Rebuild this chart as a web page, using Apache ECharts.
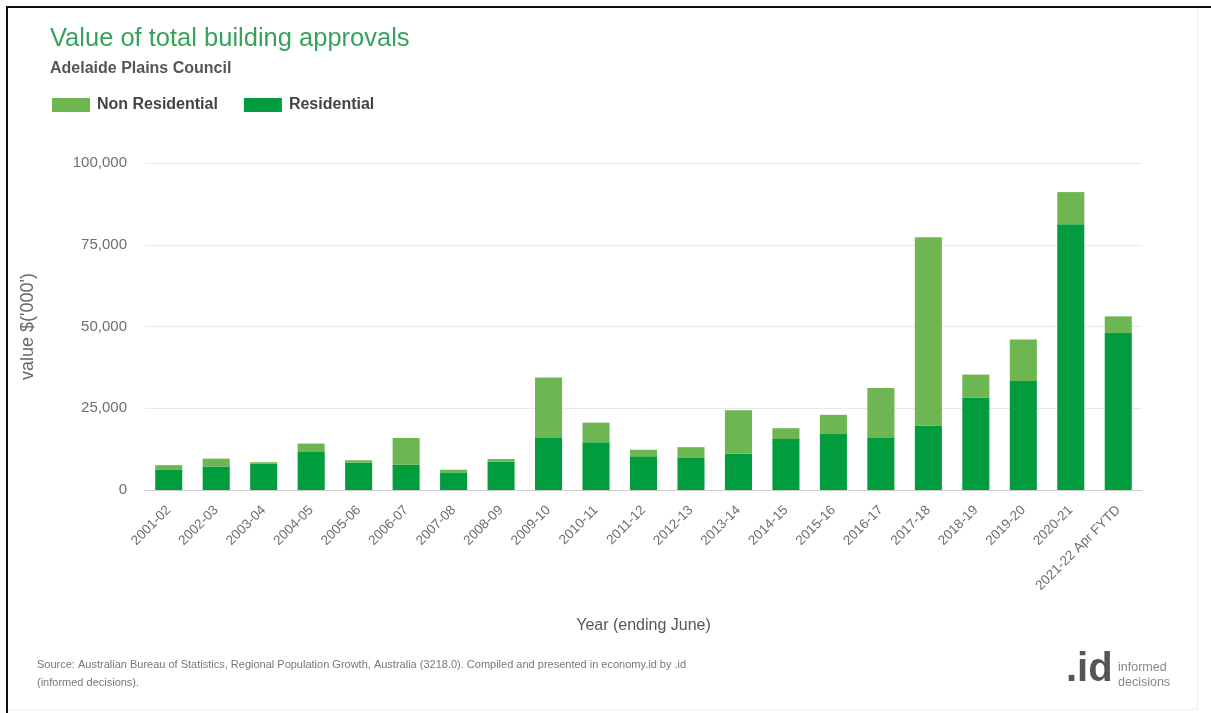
<!DOCTYPE html>
<html>
<head>
<meta charset="utf-8">
<title>Value of total building approvals</title>
<script src="https://cdn.jsdelivr.net/npm/echarts@6/dist/echarts.min.js"></script>
<style>
  html, body { margin: 0; padding: 0; background: #ffffff; }
  #chart { width: 1211px; height: 713px; }
</style>
</head>
<body>
<div id="chart"></div>
<script>
// Financial years (ending June)
const years = [
  '2001-02', '2002-03', '2003-04', '2004-05', '2005-06', '2006-07', '2007-08',
  '2008-09', '2009-10', '2010-11', '2011-12', '2012-13', '2013-14', '2014-15',
  '2015-16', '2016-17', '2017-18', '2018-19', '2019-20', '2020-21', '2021-22 Apr FYTD'
];

// Value of approvals, $'000
const residential = [
  6300, 7200, 8000, 11600, 8400, 7700, 5400,
  8700, 15900, 14600, 10300, 9800, 11100, 15600,
  17100, 15900, 19700, 28200, 33300, 81300, 48000
];
const nonResidential = [
  1300, 2400, 500, 2600, 700, 8200, 800,
  800, 18500, 6000, 2000, 3300, 13300, 3300,
  5900, 15300, 57600, 7100, 12700, 9800, 5100
];

// Value axis ticks
const yTicks = [0, 25000, 50000, 75000, 100000];

const FONT = '"Liberation Sans", Arial, Helvetica, sans-serif';
const COLOR_RES = '#009c3e';
const COLOR_NONRES = '#6db651';

const chart = echarts.init(document.getElementById('chart'), null, { renderer: 'canvas' });

chart.setOption({
  backgroundColor: '#ffffff',
  animation: false,
  textStyle: { fontFamily: FONT },
  title: [
    {
      text: 'Value of total building approvals',
      left: 45, top: 21,
      textStyle: { fontFamily: FONT, fontSize: 25.5, fontWeight: 'normal', color: '#35a35a' }
    },
    {
      text: 'Adelaide Plains Council',
      left: 45, top: 56,
      textStyle: { fontFamily: FONT, fontSize: 16, fontWeight: 'bold', color: '#555555' }
    }
  ],
  legend: {
    data: ['Non Residential', 'Residential'],
    left: 47, top: 92,
    icon: 'rect',
    itemWidth: 38, itemHeight: 14, itemGap: 26,
    textStyle: { fontFamily: FONT, fontSize: 16, fontWeight: 'bold', color: '#444444', padding: [0, 0, 0, 2] }
  },
  grid: { left: 145, right: 69, top: 163, bottom: 223, containLabel: false },
  xAxis: {
    type: 'category',
    data: years,
    name: 'Year (ending June)',
    nameLocation: 'middle',
    nameGap: 128,
    nameTextStyle: { fontFamily: FONT, fontSize: 16, color: '#555555' },
    axisTick: { show: false },
    axisLine: { lineStyle: { color: '#cccccc' } },
    axisLabel: { rotate: 45, interval: 0, margin: 18, fontFamily: FONT, fontSize: 13.5, color: '#6e6e6e' }
  },
  yAxis: {
    type: 'value',
    min: yTicks[0],
    max: yTicks[yTicks.length - 1],
    interval: yTicks[1] - yTicks[0],
    name: "value $('000')",
    nameLocation: 'middle',
    nameGap: 108,
    nameTextStyle: { fontFamily: FONT, fontSize: 18, color: '#666666' },
    axisLine: { show: false },
    axisTick: { show: false },
    axisLabel: {
      margin: 18,
      fontFamily: FONT, fontSize: 15, color: '#6e6e6e',
      formatter: v => v.toLocaleString('en-US')
    },
    splitLine: { lineStyle: { color: '#e9e9e9' } }
  },
  series: [
    {
      name: 'Residential',
      type: 'bar',
      stack: 'total',
      data: residential,
      barCategoryGap: '43%',
      itemStyle: { color: COLOR_RES }
    },
    {
      name: 'Non Residential',
      type: 'bar',
      stack: 'total',
      data: nonResidential,
      barCategoryGap: '43%',
      itemStyle: { color: COLOR_NONRES }
    }
  ],
  graphic: [
    // frame edges
    { type: 'rect', shape: { x: 6, y: 6, width: 1205, height: 2 }, style: { fill: '#111111' }, silent: true },
    { type: 'rect', shape: { x: 6, y: 6, width: 2, height: 707 }, style: { fill: '#111111' }, silent: true },
    { type: 'rect', shape: { x: 1197, y: 8, width: 1, height: 702 }, style: { fill: '#f0f0f0' }, silent: true },
    { type: 'rect', shape: { x: 8, y: 709, width: 1190, height: 1 }, style: { fill: '#f0f0f0' }, silent: true },
    // source note
    {
      type: 'text', left: 37, top: 656,
      style: {
        text: 'Source: Australian Bureau of Statistics, Regional Population Growth, Australia (3218.0). Compiled and presented in economy.id by .id\n(informed decisions).',
        font: '11px ' + FONT, fill: '#777777', lineHeight: 18
      }
    },
    // .id logo
    {
      type: 'text', left: 1066, top: 650,
      style: { text: '.id', font: 'bold 40px ' + FONT, fill: '#555555' }
    },
    {
      type: 'text', left: 1118, top: 660,
      style: { text: 'informed\ndecisions', font: '12.5px ' + FONT, fill: '#888888', lineHeight: 15 }
    }
  ]
});
</script>
</body>
</html>
